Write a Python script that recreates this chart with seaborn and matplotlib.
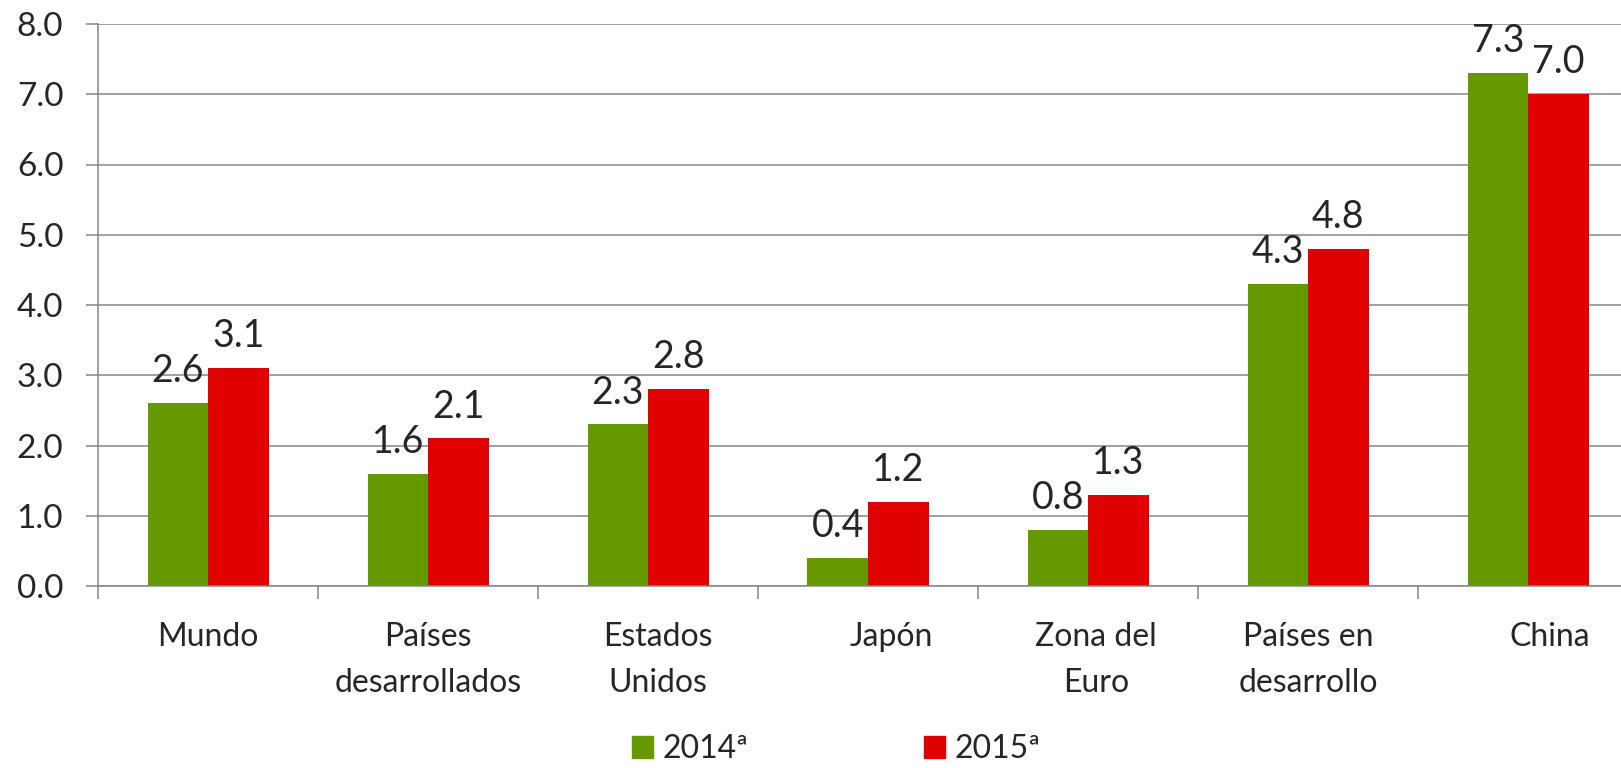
import numpy as np
import pandas as pd
import matplotlib.pyplot as plt
import matplotlib.patches as mpatches
import matplotlib.transforms as mtransforms
from matplotlib.ticker import FixedLocator
import seaborn as sns

categorias = ["Mundo", "Países\ndesarrollados", "Estados\nUnidos", "Japón",
              "Zona del\nEuro", "Países en\ndesarrollo", "China"]
valores_2014 = [2.6, 1.6, 2.3, 0.4, 0.8, 4.3, 7.3]
valores_2015 = [3.1, 2.1, 2.8, 1.2, 1.3, 4.8, 7.0]
series = ["2014ª", "2015ª"]
colores = ["#669900", "#E10000"]

data = pd.DataFrame({
    "categoria": categorias * 2,
    "valor": valores_2014 + valores_2015,
    "serie": [series[0]] * len(categorias) + [series[1]] * len(categorias),
})

sns.set_style("white")
plt.rcParams["font.family"] = ["Lato", "DejaVu Sans"]
gris = "#868686"

fig = plt.figure(figsize=(16.21, 7.68), dpi=100)
# plot area runs past the right edge, as in the original
ax = fig.add_axes([98 / 1621, 182 / 768, 1540 / 1621, 562 / 768])

sns.barplot(data=data, x="categoria", y="valor", hue="serie", palette=colores,
            width=0.55, saturation=1, linewidth=0, ax=ax, legend=False)

for cont in ax.containers:
    ax.bar_label(cont, fmt="%.1f", fontsize=27, padding=10)

ax.set_ylim(0, 8)
ax.set_xlim(-0.5, 6.5)
ax.set_yticks(np.arange(0, 8.1, 1))
ax.set_yticklabels([f"{v:.1f}" for v in np.arange(0, 8.1, 1)])
ax.yaxis.grid(True, color=gris, linewidth=1.1)
ax.set_axisbelow(True)
ax.set_xlabel("")
ax.set_ylabel("")

ax.tick_params(axis="y", length=9, width=1.1, color=gris, pad=16, labelsize=24, left=True)
ax.tick_params(axis="x", which="major", length=0, pad=26, labelsize=23)
ax.xaxis.set_minor_locator(FixedLocator(np.arange(-0.5, 7, 1)))
ax.tick_params(axis="x", which="minor", length=9, width=1.1, color=gris, bottom=True)

# small horizontal nudges of some category labels (px), like the original layout
desplaz = [0, 0, 10, 23, 8, 0, 22]
for lab, dx in zip(ax.get_xticklabels(), desplaz):
    lab.set_linespacing(1.65)
    lab.set_transform(lab.get_transform() + mtransforms.Affine2D().translate(dx, 0))

for side in ["top", "right"]:
    ax.spines[side].set_visible(False)
for side in ["left", "bottom"]:
    ax.spines[side].set_color(gris)
    ax.spines[side].set_linewidth(1.1)

handles = [mpatches.Patch(color=c, label=s) for c, s in zip(colores, series)]
fig.legend(handles=handles, loc="upper left", bbox_to_anchor=(632 / 1621, 1 - 734 / 768),
           ncol=2, frameon=False, fontsize=23, handlelength=0.66, handleheight=0.66,
           handletextpad=0.3, columnspacing=5.5, borderpad=0, borderaxespad=0)

fig.savefig("out.png", dpi=100)
